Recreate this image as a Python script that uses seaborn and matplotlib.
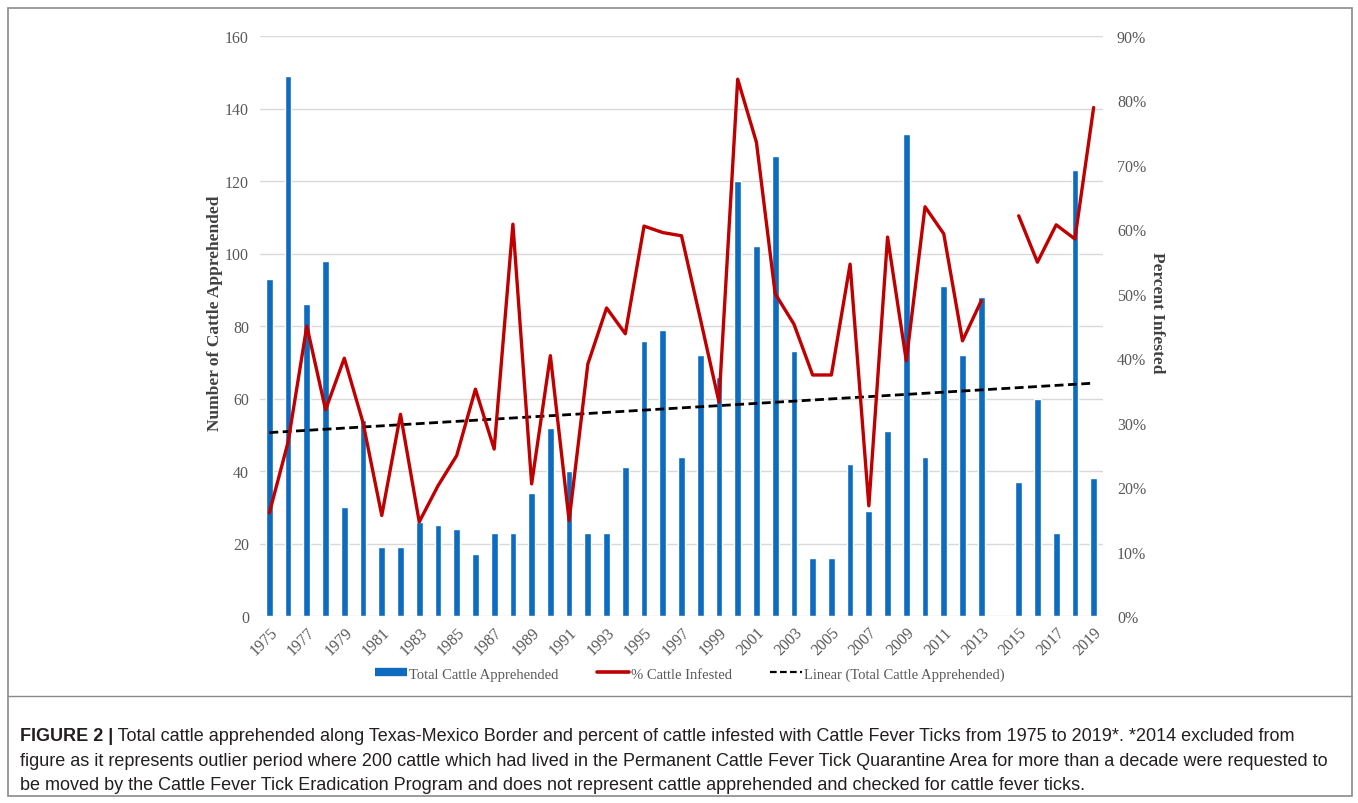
import numpy as np
import pandas as pd
import matplotlib
matplotlib.use("Agg")
import matplotlib.pyplot as plt
import seaborn as sns
from matplotlib.ticker import PercentFormatter, FixedLocator
from matplotlib.patches import Rectangle
from matplotlib.lines import Line2D

# ---------------- data ----------------
years = list(range(1975, 2014)) + list(range(2015, 2020))
cattle = [93, 149, 86, 98, 30, 54, 19, 19, 26, 25, 24, 17, 23, 23, 34, 52, 40, 23, 23, 41,
          76, 79, 44, 72, 66, 120, 102, 127, 73, 16, 16, 42, 29, 51, 133, 44, 91, 72, 88,
          37, 60, 23, 123, 38]
infested_pct = [16, 27, 45, 32, 40, 30, 15.6, 31.3, 14.6, 20.2, 24.9, 35.2, 25.9, 60.8, 20.5,
                40.4, 14.8, 39.1, 47.8, 43.8, 60.5, 59.5, 59.0, 46.2, 33.2, 83.3, 73.5, 50, 45.3,
                37.4, 37.4, 54.6, 17.1, 58.8, 39.6, 63.5, 59.3, 42.7, 48.9,
                62.1, 54.9, 60.7, 58.5, 78.9]
segment = [0 if y < 2014 else 1 for y in years]
tick_years = list(range(1975, 2020, 2))
left_ticks = list(range(0, 161, 20))
right_ticks = [i / 10 for i in range(0, 10)]

legend_labels = ["Total Cattle Apprehended", "% Cattle Infested", "Linear (Total Cattle Apprehended)"]
y_label = "Number of Cattle Apprehended"
y2_label = "Percent Infested"
caption_bold = "FIGURE 2 |"
caption_lines = [
    " Total cattle apprehended along Texas-Mexico Border and percent of cattle infested with Cattle Fever Ticks from 1975 to 2019*. *2014 excluded from",
    "figure as it represents outlier period where 200 cattle which had lived in the Permanent Cattle Fever Tick Quarantine Area for more than a decade were requested to",
    "be moved by the Cattle Fever Tick Eradication Program and does not represent cattle apprehended and checked for cattle fever ticks.",
]

df = pd.DataFrame({"year": years, "cattle": cattle,
                   "pct": [p / 100 for p in infested_pct], "segment": segment})

coef = np.polyfit(df["year"], df["cattle"], 1)
trend_df = pd.DataFrame({"year": [1975, 2019]})
trend_df["trend"] = np.polyval(coef, trend_df["year"])

# ---------------- style ----------------
sns.set_theme(style="white")
plt.rcParams["font.family"] = ["Liberation Serif", "DejaVu Serif"]

BLUE = "#0E6CC0"
RED = "#C00000"
TICKC = "#595959"
LABC = "#404040"

W, H = 1358, 804
AX_L, AX_R, AX_T, AX_B = 260, 1103, 37, 617
fig = plt.figure(figsize=(W / 100, H / 100), dpi=100)
ax = fig.add_axes([AX_L / W, 1 - AX_B / H, (AX_R - AX_L) / W, (AX_B - AX_T) / H])

sns.barplot(data=df, x="year", y="cattle", native_scale=True, width=0.36,
            color=BLUE, saturation=1, ax=ax, zorder=2)
sns.lineplot(data=trend_df, x="year", y="trend", color="black", linewidth=2.0,
             linestyle=(0, (3.2, 1.6)), ax=ax, zorder=3)

ax.set_xlim(1974.5, 2019.5)
ax.set_ylim(0, 160)
ax.yaxis.set_major_locator(FixedLocator(left_ticks))
ax.grid(axis="y", color="#D9D9D9", linewidth=1.0, zorder=0)
ax.set_axisbelow(True)
ax.xaxis.set_major_locator(FixedLocator(tick_years))
ax.set_xticklabels([str(y) for y in tick_years], rotation=45, ha="right",
                   rotation_mode="anchor")
ax.tick_params(axis="both", length=0, colors=TICKC, labelsize=11.5)
ax.tick_params(axis="x", pad=6)
ax.tick_params(axis="y", pad=8)
ax.set_xlabel("")
ax.set_ylabel(y_label, fontsize=12.5, fontweight="bold", color=LABC,
              va="center", ha="center")
ax.yaxis.set_label_coords((215 - AX_L) / (AX_R - AX_L), (AX_B - 313) / (AX_B - AX_T))
for s in ax.spines.values():
    s.set_visible(False)

ax2 = ax.twinx()
sns.lineplot(data=df, x="year", y="pct", units="segment", estimator=None,
             color=RED, linewidth=2.4, ax=ax2, zorder=4)
ax2.set_ylim(0, 0.9)
ax2.yaxis.set_major_locator(FixedLocator(right_ticks))
ax2.yaxis.set_major_formatter(PercentFormatter(1.0, decimals=0))
ax2.tick_params(axis="y", length=0, colors=TICKC, labelsize=11.5, pad=10)
ax2.set_ylabel(y2_label, fontsize=12.5, fontweight="bold", color=LABC,
               rotation=270, va="center", ha="center")
ax2.yaxis.set_label_coords((1157 - AX_L) / (AX_R - AX_L), (AX_B - 313) / (AX_B - AX_T))
ax2.set_xlim(1974.5, 2019.5)
ax2.set_xlabel("")
for s in ax2.spines.values():
    s.set_visible(False)

handles = [Line2D([], [], color=BLUE, linewidth=6, solid_capstyle="butt"),
           Line2D([], [], color=RED, linewidth=2.6),
           Line2D([], [], color="black", linewidth=1.6, linestyle=(0, (3, 1.5)))]
fig.legend(handles, legend_labels, loc="center", bbox_to_anchor=(690 / W, 1 - 675 / H),
           ncol=3, frameon=False, fontsize=10.5, handlelength=2.2, handletextpad=0.15,
           columnspacing=2.6, labelcolor=TICKC)

# frame and caption
fig.patches.append(Rectangle((8 / W, 1 - 797 / H), (1352 - 8) / W, (797 - 9) / H,
                             transform=fig.transFigure, fill=False,
                             edgecolor="#8A8A8A", linewidth=1.2))
fig.lines.append(Line2D([8 / W, 1352 / W], [1 - 697 / H, 1 - 697 / H],
                        transform=fig.transFigure, color="#8A8A8A", linewidth=1.0))

cap_font = ["Liberation Sans Narrow", "Liberation Sans", "DejaVu Sans"]
CS = 13
t = fig.text(20 / W, 1 - 737 / H, caption_bold, fontsize=CS, fontweight="bold",
             family=cap_font, color="#231F20", va="center", ha="left")
fig.canvas.draw()
bb = t.get_window_extent()
fig.text(bb.x1 / W, 1 - 737 / H, caption_lines[0], fontsize=CS, family=cap_font,
         color="#231F20", va="center", ha="left")
fig.text(20 / W, 1 - 762 / H, caption_lines[1], fontsize=CS, family=cap_font,
         color="#231F20", va="center", ha="left")
fig.text(20 / W, 1 - 786 / H, caption_lines[2], fontsize=CS, family=cap_font,
         color="#231F20", va="center", ha="left")

fig.savefig("out.png", dpi=100)
